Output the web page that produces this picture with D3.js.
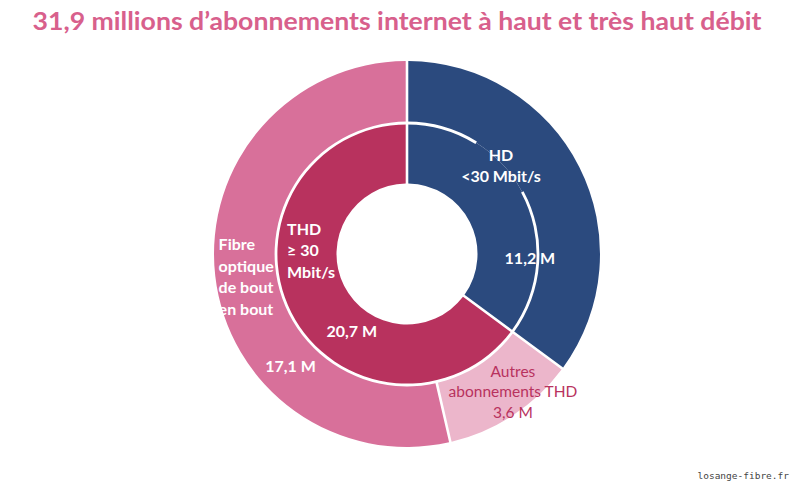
<!DOCTYPE html>
<html><head><meta charset="utf-8">
<script src="https://cdn.jsdelivr.net/npm/d3@7"></script>
<style>body{margin:0;background:#fff}svg{display:block}</style>
</head><body>
<svg id="c" width="800" height="489"></svg>
<script>
// ---- data ----
const title = "31,9 millions d’abonnements internet à haut et très haut débit";
const innerCategories = ["HD", "THD"];
const innerValues = [11.2, 20.7];
const outerCategories = ["HD", "Autres", "Fibre"];
const outerValues = [11.2, 3.6, 17.1];
const innerLabels = [["HD", "<30 Mbit/s"], ["THD", "≥ 30", "Mbit/s"]];
const innerValueLabels = ["11,2 M", "20,7 M"];
const outerLabels = [null, ["Autres", "abonnements THD", "3,6 M"], ["Fibre", "optique", "de bout", "en bout"]];
const outerValueLabels = [null, null, "17,1 M"];
const source = "losange-fibre.fr";

// ---- style ----
const colors = {HD: "#2b4a7e", THD: "#b8325e", Autres: "#ecb6cb", Fibre: "#d8709a"};
const cx = 407, cy = 254;
const r0 = 70.5, r1 = 131, r2 = 193;
const font = "Lato, 'Open Sans', sans-serif";

const svg = d3.select("#c");
svg.append("text").attr("x", 397).attr("y", 30).attr("text-anchor", "middle")
  .attr("font-family", font).attr("font-weight", 700).attr("font-size", 25.5)
  .attr("textLength", 729).attr("lengthAdjust", "spacingAndGlyphs")
  .attr("fill", "#d8608c").text(title);

const g = svg.append("g").attr("transform", `translate(${cx},${cy})`);
const pie = d3.pie().sort(null).value(d => d.v);
const innerData = pie(innerCategories.map((c, i) => ({c, v: innerValues[i], i})));
const outerData = pie(outerCategories.map((c, i) => ({c, v: outerValues[i], i})));

const pad = 0.026;
const arcIn = d3.arc().innerRadius(r0).outerRadius(r1).padRadius(100);
const arcOut = d3.arc().innerRadius(r1).outerRadius(r2).padRadius(100);

g.selectAll("path.out").data(outerData).join("path").attr("class", "out")
  .attr("d", d => arcOut({...d, padAngle: pad})).attr("fill", d => colors[d.data.c]);
g.selectAll("path.in").data(innerData).join("path").attr("class", "in")
  .attr("d", d => arcIn({...d, padAngle: pad})).attr("fill", d => colors[d.data.c]);

// ring separator (with a gap behind the HD label)
const sep = d3.arc().innerRadius(r1 - 1.4).outerRadius(r1 + 1.4);
const hd = innerData[0];
const hdLabelAngle = hd.startAngle + (hd.endAngle - hd.startAngle) * 0.37;
const gapHalf = 0.26;
const segs = [
  [hd.startAngle, hdLabelAngle - gapHalf],
  [hdLabelAngle + gapHalf, hd.endAngle],
  [hd.endAngle, 2 * Math.PI]
];
g.selectAll("path.sep").data(segs).join("path").attr("class", "sep")
  .attr("d", s => sep({startAngle: s[0], endAngle: s[1]})).attr("fill", "#fff");

function polar(a, r) { return [Math.sin(a) * r, -Math.cos(a) * r]; }
function block(lines, a, r, opts) {
  const [x, y] = polar(a, r);
  const lh = opts.lh || 21;
  const t = g.append("text").attr("font-family", font).attr("font-size", opts.size || 15)
    .attr("font-weight", opts.weight || 700).attr("fill", opts.fill || "#fff")
    .attr("text-anchor", opts.anchor || "middle");
  const y0 = y - (lines.length - 1) * lh / 2 + (opts.size || 15) * 0.35;
  lines.forEach((l, i) => t.append("tspan").attr("x", x + (opts.dx || 0)).attr("y", y0 + i * lh).text(l));
}
const deg = Math.PI / 180;
// inner labels
block(innerLabels[0], hdLabelAngle, r1 - 2, {size: 16, lh: 21});
block([innerValueLabels[0]], hd.startAngle + (hd.endAngle - hd.startAngle) * 0.73, 123, {size: 16});
block(innerLabels[1], 272 * deg, 95, {size: 16, anchor: "start", dx: -25, lh: 21.5});
block([innerValueLabels[1]], 215.5 * deg, 95, {size: 16});
// outer labels
block(outerLabels[1], 142.5 * deg, 174, {size: 15.5, weight: 400, fill: "#b8325e", lh: 20.5});
block(outerLabels[2], 262 * deg, 164, {size: 16, anchor: "start", dx: -26, lh: 21.8});
block([outerValueLabels[2]], 226 * deg, 162, {size: 16});

svg.append("text").attr("x", 789).attr("y", 479).attr("text-anchor", "end")
  .attr("font-family", "'DejaVu Sans Mono', monospace").attr("font-size", 9.5)
  .attr("fill", "#444").text(source);
</script>
</body></html>
